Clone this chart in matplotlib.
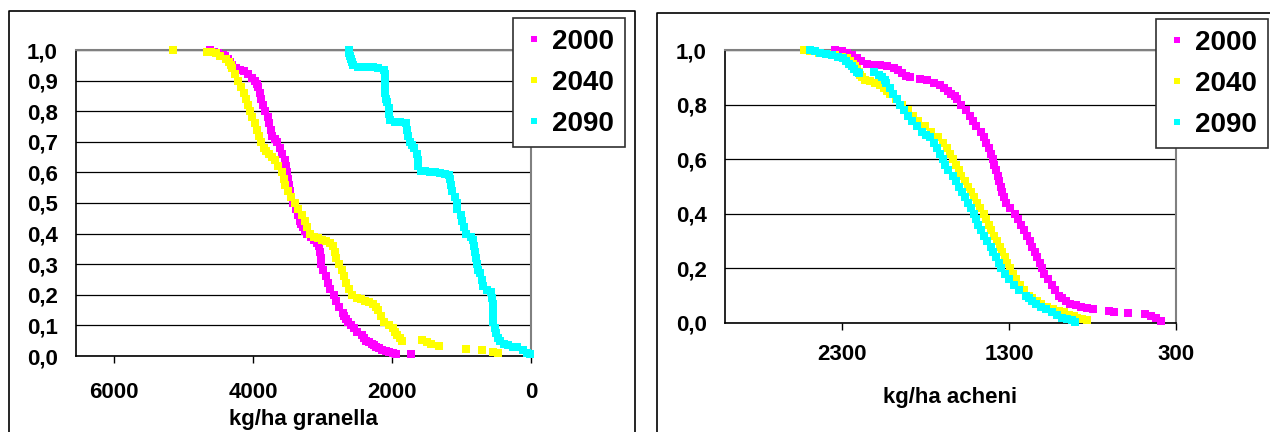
import matplotlib
matplotlib.use("Agg")
import matplotlib.pyplot as plt
from matplotlib.lines import Line2D

plt.rcParams['font.family'] = ['Liberation Sans', 'DejaVu Sans']
plt.rcParams['font.weight'] = 'bold'

# ---------------- data: left panel (kg/ha granella) ----------------
g2000_x = [4620, 4560, 4500, 4440, 4400, 4360, 4330, 4300, 4250, 4190, 4130, 4070, 4020, 3980, 3950,
           3930, 3900, 3880, 3860, 3830, 3790, 3770, 3750, 3730, 3690, 3650, 3620, 3580, 3540, 3520,
           3510, 3500, 3490, 3470, 3450, 3420, 3390, 3350, 3330, 3310, 3280, 3250, 3220, 3170, 3120,
           3080, 3050, 3040, 3030, 3020, 3000, 2950, 2920, 2900, 2840, 2800, 2770, 2710, 2690, 2670,
           2640, 2590, 2550, 2500, 2440, 2410, 2380, 2330, 2290, 2260, 2230, 2190, 2140, 2090, 2040,
           1990, 1950, 1730]
g2000_y = [1.0, 0.995, 0.99, 0.985, 0.98, 0.97, 0.96, 0.95, 0.94, 0.935, 0.93, 0.92, 0.91, 0.90, 0.89,
           0.88, 0.86, 0.84, 0.82, 0.80, 0.78, 0.76, 0.74, 0.72, 0.71, 0.70, 0.68, 0.66, 0.64, 0.62,
           0.60, 0.58, 0.56, 0.54, 0.52, 0.50, 0.48, 0.46, 0.44, 0.43, 0.42, 0.41, 0.40, 0.39, 0.38,
           0.37, 0.36, 0.34, 0.32, 0.30, 0.28, 0.26, 0.24, 0.22, 0.20, 0.18, 0.16, 0.14, 0.13, 0.12,
           0.11, 0.10, 0.09, 0.08, 0.07, 0.06, 0.05, 0.045, 0.04, 0.035, 0.03, 0.025, 0.02, 0.015, 0.012,
           0.01, 0.008, 0.005]

g2040_x = [5150, 4670, 4600, 4540, 4470, 4390, 4350, 4320, 4300, 4260, 4220, 4170, 4130, 4100, 4070,
           4040, 4010, 3980, 3950, 3920, 3890, 3850, 3810, 3770, 3730, 3680, 3640, 3590, 3560, 3540,
           3500, 3460, 3400, 3350, 3300, 3260, 3230, 3180, 3130, 3070, 3010, 2950, 2890, 2850, 2820,
           2800, 2770, 2720, 2690, 2660, 2620, 2570, 2510, 2450, 2390, 2330, 2270, 2230, 2200, 2160,
           2110, 2050, 1990, 1960, 1930, 1890, 1850, 1570, 1500, 1440, 1320, 940, 700, 550, 480]
g2040_y = [1.0, 0.995, 0.992, 0.99, 0.98, 0.97, 0.96, 0.95, 0.94, 0.92, 0.90, 0.88, 0.86, 0.84, 0.82,
           0.80, 0.78, 0.76, 0.74, 0.72, 0.70, 0.68, 0.67, 0.66, 0.65, 0.64, 0.62, 0.60, 0.58, 0.56,
           0.54, 0.52, 0.50, 0.48, 0.46, 0.44, 0.42, 0.40, 0.39, 0.385, 0.38, 0.375, 0.37, 0.36, 0.34,
           0.32, 0.30, 0.28, 0.26, 0.24, 0.22, 0.20, 0.19, 0.185, 0.18, 0.175, 0.17, 0.16, 0.15, 0.13,
           0.11, 0.10, 0.09, 0.08, 0.07, 0.06, 0.05, 0.052, 0.046, 0.04, 0.032, 0.022, 0.02, 0.012, 0.01]

g2090_x = [2620, 2620, 2610, 2590, 2570, 2560, 2490, 2420, 2350, 2280, 2200, 2120, 2100, 2100, 2100,
           2100, 2090, 2080, 2050, 2040, 2030, 1960, 1890, 1800, 1790, 1770, 1740, 1710, 1680, 1640,
           1630, 1620, 1590, 1520, 1450, 1380, 1310, 1240, 1180, 1160, 1150, 1140, 1090, 1070, 1060,
           1010, 990, 970, 930, 860, 830, 820, 800, 790, 780, 770, 740, 700, 690, 640,
           580, 560, 550, 550, 545, 540, 525, 500, 470, 440, 390, 330, 260, 200, 110,
           60, 20]
g2090_y = [1.0, 0.99, 0.98, 0.97, 0.96, 0.95, 0.945, 0.945, 0.943, 0.943, 0.94, 0.935, 0.92, 0.90, 0.88,
           0.86, 0.84, 0.83, 0.81, 0.79, 0.77, 0.765, 0.765, 0.76, 0.74, 0.72, 0.70, 0.69, 0.68, 0.66,
           0.64, 0.62, 0.605, 0.605, 0.60, 0.60, 0.598, 0.595, 0.59, 0.58, 0.56, 0.54, 0.52, 0.50, 0.48,
           0.46, 0.44, 0.42, 0.40, 0.39, 0.38, 0.36, 0.34, 0.32, 0.30, 0.28, 0.27, 0.25, 0.23, 0.215,
           0.21, 0.19, 0.17, 0.15, 0.13, 0.11, 0.09, 0.075, 0.06, 0.05, 0.04, 0.035, 0.03, 0.028, 0.02,
           0.01, 0.005]

# ---------------- data: right panel (kg/ha acheni) ----------------
a2000_x = [2340, 2300, 2270, 2240, 2210, 2185, 2150, 2110, 2070, 2030, 1990, 1965, 1940, 1915, 1890,
           1830, 1790, 1750, 1715, 1690, 1665, 1645, 1625, 1610, 1585, 1560, 1535, 1515, 1495, 1470,
           1450, 1435, 1420, 1408, 1398, 1388, 1378, 1368, 1358, 1350, 1342, 1330, 1315, 1295, 1265,
           1245, 1225, 1210, 1190, 1175, 1160, 1145, 1130, 1115, 1105, 1090, 1065, 1045, 1025, 1000,
           980, 960, 935, 900, 870, 830, 795, 700, 670, 590, 485, 450, 420, 390]
a2000_y = [1.0, 0.995, 0.99, 0.98, 0.97, 0.96, 0.95, 0.945, 0.945, 0.943, 0.935, 0.925, 0.915, 0.905, 0.90,
           0.895, 0.89, 0.88, 0.87, 0.86, 0.85, 0.84, 0.83, 0.82, 0.80, 0.78, 0.76, 0.74, 0.72, 0.70,
           0.68, 0.66, 0.64, 0.62, 0.60, 0.58, 0.56, 0.54, 0.52, 0.50, 0.48, 0.46, 0.44, 0.42, 0.40,
           0.38, 0.36, 0.34, 0.32, 0.30, 0.28, 0.26, 0.24, 0.22, 0.20, 0.18, 0.16, 0.14, 0.12, 0.10,
           0.09, 0.08, 0.07, 0.065, 0.06, 0.055, 0.05, 0.045, 0.04, 0.036, 0.032, 0.025, 0.018, 0.008]

a2040_x = [2530, 2490, 2440, 2390, 2340, 2300, 2270, 2250, 2235, 2220, 2210, 2200, 2190, 2180, 2160,
           2130, 2100, 2070, 2050, 2030, 2010, 1975, 1940, 1905, 1875, 1845, 1805, 1765, 1725, 1695,
           1672, 1652, 1635, 1615, 1600, 1585, 1565, 1548, 1530, 1512, 1492, 1472, 1452, 1435, 1420,
           1405, 1392, 1370, 1355, 1340, 1325, 1310, 1295, 1275, 1255, 1235, 1210, 1180, 1160, 1135,
           1110, 1075, 1035, 1000, 970, 940, 910, 890, 860, 830]
a2040_y = [1.0, 0.995, 0.99, 0.985, 0.98, 0.975, 0.97, 0.96, 0.95, 0.94, 0.93, 0.92, 0.91, 0.90, 0.89,
           0.885, 0.88, 0.87, 0.86, 0.85, 0.84, 0.82, 0.80, 0.78, 0.76, 0.74, 0.72, 0.70, 0.68, 0.66,
           0.64, 0.62, 0.60, 0.58, 0.56, 0.54, 0.52, 0.50, 0.48, 0.46, 0.44, 0.42, 0.40, 0.38, 0.36,
           0.34, 0.32, 0.30, 0.28, 0.26, 0.24, 0.22, 0.20, 0.18, 0.16, 0.14, 0.12, 0.10, 0.09, 0.08,
           0.07, 0.06, 0.05, 0.045, 0.04, 0.03, 0.025, 0.02, 0.015, 0.01]

a2090_x = [2490, 2460, 2430, 2395, 2360, 2325, 2295, 2275, 2255, 2240, 2225, 2210, 2195, 2105, 2080,
           2060, 2045, 2035, 2015, 1995, 1970, 1950, 1928, 1905, 1882, 1852, 1818, 1795, 1770, 1750,
           1733, 1715, 1695, 1680, 1662, 1635, 1618, 1600, 1582, 1565, 1548, 1530, 1512, 1500, 1485,
           1470, 1448, 1430, 1410, 1393, 1375, 1360, 1345, 1325, 1300, 1270, 1240, 1200, 1180, 1160,
           1140, 1110, 1080, 1045, 1010, 980, 950, 925, 905]
a2090_y = [1.0, 0.995, 0.99, 0.985, 0.98, 0.975, 0.97, 0.96, 0.95, 0.94, 0.93, 0.92, 0.915, 0.92, 0.91,
           0.90, 0.89, 0.88, 0.86, 0.84, 0.82, 0.80, 0.78, 0.76, 0.74, 0.72, 0.70, 0.69, 0.68, 0.66,
           0.64, 0.62, 0.60, 0.58, 0.56, 0.54, 0.52, 0.50, 0.48, 0.46, 0.44, 0.42, 0.40, 0.38, 0.36,
           0.34, 0.32, 0.30, 0.28, 0.26, 0.24, 0.22, 0.20, 0.18, 0.16, 0.14, 0.12, 0.10, 0.09, 0.08,
           0.07, 0.06, 0.05, 0.04, 0.03, 0.02, 0.015, 0.01, 0.005]

series_labels = ['2000', '2040', '2090']
series_colors = ['#FF00FF', '#FFFF00', '#00FFFF']

left_xticks = [6000, 4000, 2000, 0]
left_yticks = [0.0, 0.1, 0.2, 0.3, 0.4, 0.5, 0.6, 0.7, 0.8, 0.9, 1.0]
right_xticks = [2300, 1300, 300]
right_yticks = [0.0, 0.2, 0.4, 0.6, 0.8, 1.0]
left_xlabel = 'kg/ha granella'
right_xlabel = 'kg/ha acheni'

# ---------------- figure ----------------
W, H = 1270, 432
fig = plt.figure(figsize=(W / 100, H / 100), dpi=100)


def px_rect(x0, x1, ytop, ybot):
    return [x0 / W, 1 - ybot / H, (x1 - x0) / W, (ybot - ytop) / H]


# panel frames
def fline(xs, ys):
    fig.add_artist(Line2D([x / W for x in xs], [1 - y / H for y in ys], color='black', lw=1.2,
                          transform=fig.transFigure))


fline([9, 9, 635, 635], [432, 11, 11, 432])
fline([657, 657, 1270], [432, 13, 13])

axL = fig.add_axes(px_rect(76, 531, 50, 356))
axR = fig.add_axes(px_rect(725, 1176, 50, 323))

TICK_FS = 16


def style(ax, xlim, xticks, yticks, xlabel, xpad, lpad):
    ax.set_xlim(*xlim)
    ax.set_ylim(0, 1)
    ax.set_xticks(xticks)
    ax.set_xticklabels([str(t) for t in xticks])
    ax.set_yticks(yticks)
    ax.set_yticklabels([('%.1f' % t).replace('.', ',') for t in yticks])
    ax.yaxis.grid(True, color='black', lw=0.9)
    ax.set_axisbelow(True)
    for s in ['top', 'right']:
        ax.spines[s].set_color('#808080')
        ax.spines[s].set_linewidth(1.5)
    for s in ['left', 'bottom']:
        ax.spines[s].set_color('black')
        ax.spines[s].set_linewidth(1.2)
    ax.tick_params(axis='x', direction='out', length=5, width=1, pad=xpad, labelsize=TICK_FS)
    ax.tick_params(axis='y', direction='in', length=0, pad=13, labelsize=TICK_FS)
    for lab in ax.get_xticklabels() + ax.get_yticklabels():
        lab.set_fontweight('bold')
    ax.set_xlabel(xlabel, fontsize=TICK_FS, fontweight='bold', labelpad=lpad)


style(axL, (6550, 0), left_xticks, left_yticks, left_xlabel, 14, 4)
style(axR, (3000, 300), right_xticks, right_yticks, right_xlabel, 10, 16)

left_data = [(g2000_x, g2000_y), (g2040_x, g2040_y), (g2090_x, g2090_y)]
right_data = [(a2000_x, a2000_y), (a2040_x, a2040_y), (a2090_x, a2090_y)]

for ax, data, lx, ly in [(axL, left_data, 513, 18), (axR, right_data, 1156, 19)]:
    for (xs, ys), lab, col in zip(data, series_labels, series_colors):
        ax.plot(xs, ys, linestyle='none', marker='s', markersize=5.4, markeredgewidth=0,
                color=col, label=lab, clip_on=False, zorder=3)
    leg = ax.legend(loc='upper left', bbox_to_anchor=(lx / W, 1 - ly / H),
                    bbox_transform=fig.transFigure, borderaxespad=0,
                    prop={'family': 'Liberation Sans', 'weight': 'bold', 'size': 20},
                    frameon=True, fancybox=False, edgecolor='#303030', framealpha=1,
                    handlelength=0.75, handletextpad=0.28, borderpad=0.38, labelspacing=0.54,
                    markerscale=0.85)
    leg.get_frame().set_linewidth(1.2)
    leg.set_zorder(10)

fig.savefig('out.png', dpi=100)
